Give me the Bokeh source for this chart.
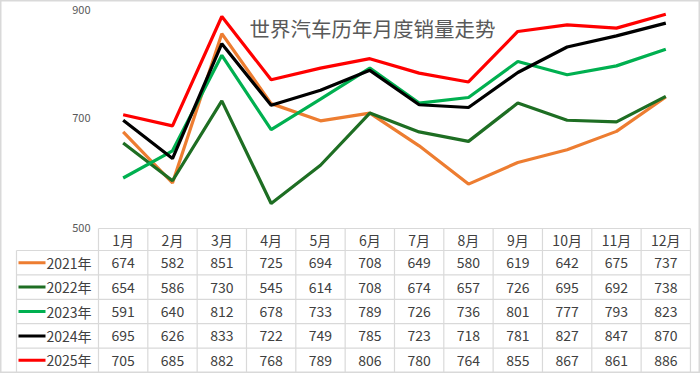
from bokeh.plotting import figure
from bokeh.models import ColumnDataSource, Range1d
from bokeh.core.properties import value
from bokeh.embed import file_html
from bokeh.resources import INLINE

# ---------------- data ----------------
months = ["1月", "2月", "3月", "4月", "5月", "6月", "7月", "8月", "9月", "10月", "11月", "12月"]
years = ["2021年", "2022年", "2023年", "2024年", "2025年"]
s2021 = [674, 582, 851, 725, 694, 708, 649, 580, 619, 642, 675, 737]
s2022 = [654, 586, 730, 545, 614, 708, 674, 657, 726, 695, 692, 738]
s2023 = [591, 640, 812, 678, 733, 789, 726, 736, 801, 777, 793, 823]
s2024 = [695, 626, 833, 722, 749, 785, 723, 718, 781, 827, 847, 870]
s2025 = [705, 685, 882, 768, 789, 806, 780, 764, 855, 867, 861, 886]
series = [s2021, s2022, s2023, s2024, s2025]
y_ticks = [500, 700, 900]
title = "世界汽车历年月度销量走势"

# ---------------- style ----------------
colors = ["#ED7D31", "#1E6E23", "#00B050", "#000000", "#FF0000"]
FONT = value("Noto Sans CJK SC")
TXT = "#404040"
GRID = "#d9d9d9"

# reference-pixel layout helpers (positions only)
REF_W, REF_H = 700, 373
X0, COL_W = 98, 49.33
Y500, PPU = 228, 0.555


def dx(px):
    return (px - X0) / COL_W


def dy(py):
    return 500 + (Y500 - py) / PPU


p = figure(width=700, height=373,
           x_range=Range1d(dx(0), dx(REF_W)),
           y_range=Range1d(dy(REF_H), dy(0)),
           x_axis_location=None, y_axis_location=None,
           output_backend="svg", toolbar_location=None, min_border=0)
p.grid.visible = False
p.outline_line_color = GRID
p.outline_line_width = 2
p.background_fill_color = "white"
p.border_fill_color = "white"

n = len(months)
xs = [i + 0.5 for i in range(n)]

# ---------------- lines ----------------
for vals, c in zip(series, colors):
    p.line(xs, vals, line_color=c, line_width=3.2)

# ---------------- y tick labels ----------------
p.text(x=[dx(90)] * len(y_ticks), y=y_ticks, text=[str(t) for t in y_ticks],
       y_offset=[-1, 0, 3],
       text_font=FONT, text_font_size="11px", text_color="#595959",
       text_align="right", text_baseline="middle")

# ---------------- title ----------------
p.text(x=[dx(372)], y=[dy(27)], text=[title], text_font=FONT,
       text_font_size="20.5px", text_color="#595959",
       text_align="center", text_baseline="middle")

# ---------------- table ----------------
HEAD_TOP, HEAD_BOT, ROW_H = 228, 250, 24.4
row_edges = [HEAD_BOT + k * ROW_H for k in range(len(years) + 1)]
LEFT = 16
RIGHT = X0 + n * COL_W

# horizontal grid lines
hx0 = [dx(X0)] + [dx(LEFT)] * len(row_edges)
hy = [dy(HEAD_TOP)] + [dy(r) for r in row_edges]
p.segment(x0=hx0, y0=hy, x1=[dx(RIGHT)] * len(hy), y1=hy,
          line_color=GRID, line_width=1.2)
# vertical grid lines
vx = [dx(LEFT)] + [k for k in range(n + 1)]
vy0 = [dy(HEAD_BOT)] + [dy(HEAD_TOP)] * (n + 1)
p.segment(x0=vx, y0=vy0, x1=vx, y1=[dy(row_edges[-1])] * len(vx),
          line_color=GRID, line_width=1.2)

# header
p.text(x=xs, y=[dy((HEAD_TOP + HEAD_BOT) / 2)] * n, text=months,
       text_font=FONT, text_font_size="14px", text_color=TXT,
       text_align="center", text_baseline="middle")

# rows
for r, (yr, vals, c) in enumerate(zip(years, series, colors)):
    cy = dy(row_edges[r] + ROW_H / 2)
    p.segment(x0=[dx(18)], y0=[cy], x1=[dx(45)], y1=[cy], line_color=c, line_width=3)
    p.text(x=[dx(46)], y=[cy], text=[yr], text_font=FONT, text_font_size="14px",
           text_color=TXT, text_align="left", text_baseline="middle")
    src = ColumnDataSource(dict(x=xs, y=[cy] * n, t=[str(v) for v in vals]))
    p.text(x="x", y="y", text="t", source=src, text_font=FONT, text_font_size="14px",
           text_color=TXT, text_align="center", text_baseline="middle")

open("out.html", "w").write(file_html(p, INLINE))
